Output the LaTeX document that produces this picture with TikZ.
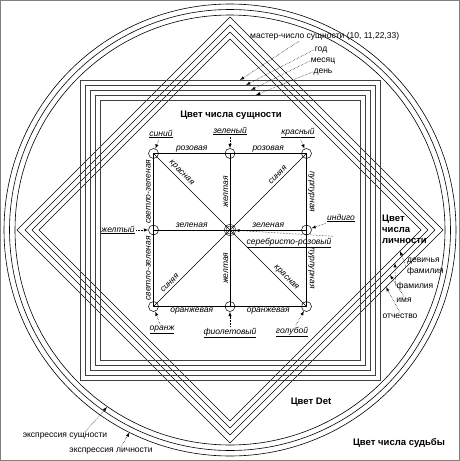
\documentclass[tikz,border=0pt]{standalone}
\usepackage{fontspec}
\setmainfont{Liberation Sans}
\usetikzlibrary{arrows}

\tikzset{
  ring/.style={line width=.6pt},
  frame/.style={black!75,line width=.7pt},
  link/.style={line width=.6pt},
  ptr/.style={densely dotted,-latex,line width=.5pt},
  dot/.style={circle,draw,line width=.5pt,inner sep=0pt,minimum size=10pt},
  clr/.style={font=\fontsize{8.5}{10}\selectfont\itshape,inner sep=1.5pt},
  ttl/.style={font=\fontsize{9.5}{11}\selectfont\bfseries,inner sep=0pt},
  txt/.style={font=\fontsize{8.5}{11}\selectfont,inner sep=1pt},
}

\begin{document}
\begin{tikzpicture}[x=1pt,y=-1pt]
  \useasboundingbox (0,0) rectangle (460,461);
  \draw[gray,line width=1pt] (.5,.5) rectangle (459.5,460.5);

  \foreach \r in {215,220.5,226}
    \draw[ring] (230,230) circle (\r);
  \foreach \d in {191,198,205,213}
    \draw[ring] (230,230-\d) -- (230+\d,230) -- (230,230+\d) -- (230-\d,230) -- cycle;
  \foreach \s in {130,135,140,145,150}
    \draw[frame] (230-\s,230-\s) rectangle (230+\s,230+\s);

  \node[dot] (tl) at (153.5,153.5) {};
  \node[dot] (tm) at (230,153.5) {};
  \node[dot] (tr) at (306.5,153.5) {};
  \node[dot] (ml) at (153.5,230) {};
  \node[dot,double,double distance=1pt] (c) at (230,230) {};
  \node[dot] (mr) at (306.5,230) {};
  \node[dot] (bl) at (153.5,306.5) {};
  \node[dot] (bm) at (230,306.5) {};
  \node[dot] (br) at (306.5,306.5) {};

  \draw[link] (tl.center) -- (tr.center) -- (br.center) -- (bl.center) -- cycle;
  \draw[link] (ml.center) -- (mr.center);
  \draw[link] (tm.center) -- (bm.center);
  \draw[link] (tl.center) -- (br.center);
  \draw[link] (tr.center) -- (bl.center);

  \path (tl) -- (tm) node[clr,midway,above] {розовая};
  \path (tm) -- (tr) node[clr,midway,above] {розовая};
  \path (ml) -- (c) node[clr,midway,above,yshift=1pt] {зеленая};
  \path (c) -- (mr) node[clr,midway,above,yshift=1pt] {зеленая};
  \path (bl) -- (bm) node[clr,midway,below] {оранжевая};
  \path (bm) -- (br) node[clr,midway,below] {оранжевая};
  \path (tl) -- (ml) node[clr,midway,rotate=90,anchor=south,yshift=1pt] {светло-зеленая};
  \path (ml) -- (bl) node[clr,midway,rotate=90,anchor=south,yshift=1pt] {светло-зеленая};
  \path (tm) -- (c) node[clr,midway,rotate=90,anchor=south] {желтая};
  \path (c) -- (bm) node[clr,midway,rotate=90,anchor=south] {желтая};
  \path (tr) -- (mr) node[clr,midway,rotate=-90,anchor=south] {пурпурная};
  \path (mr) -- (br) node[clr,midway,rotate=-90,anchor=south] {пурпурная};
  \path (tl.center) -- (c.center) node[clr,pos=.31,sloped,above=1pt] {красная};
  \path (c.center) -- (tr.center) node[clr,pos=.67,sloped,above=1pt] {синяя};
  \path (bl.center) -- (c.center) node[clr,pos=.26,sloped,above=1pt] {синяя};
  \path (c.center) -- (br.center) node[clr,pos=.68,sloped,above=1pt] {красная};

  \node[clr] (siniy) at (161,134) {\underline{синий}};
  \node[clr] (zelen) at (230,131) {\underline{зеленый}};
  \node[clr] (krasn) at (298,133) {\underline{красный}};
  \node[clr] (zhelt) at (118,230) {\underline{желтый}};
  \node[clr] (indigo) at (341,218) {\underline{индиго}};
  \node[clr] (serroz) at (289,243) {\underline{серебристо-розовый}};
  \node[clr] (oranzh) at (162,330) {\underline{оранж}};
  \node[clr] (fiolet) at (230,333) {\underline{фиолетовый}};
  \node[clr] (golub) at (292,332) {\underline{голубой}};
  \draw[ptr] (siniy) -- (tl);
  \draw[ptr] (zelen) -- (tm);
  \draw[ptr] (krasn) -- (tr);
  \draw[ptr] (zhelt) -- (ml);
  \draw[ptr] (indigo) -- (mr);
  \draw[ptr] (serroz.north east) -- (c);
  \draw[ptr] (oranzh) -- (bl);
  \draw[ptr] (fiolet) -- (bm);
  \draw[ptr] (golub) -- (br);

  \node[ttl] (tess) at (231,115) {Цвет числа сущности};
  \node[ttl,align=left,anchor=west] (tpers) at (382,229) {Цвет\\числа\\личности};
  \node[ttl] (tdet) at (311,402) {Цвет Det};
  \node[ttl] (tfate) at (399,443) {Цвет числа судьбы};

  \node[txt,anchor=west] (master) at (249,36) {мастер-число сущности (10, 11,22,33)};
  \node[txt] (god) at (321,50) {год};
  \node[txt] (mes) at (323,61) {месяц};
  \node[txt] (den) at (323,72) {день};
  \coordinate (sq1) at (240,80);
  \coordinate (sq2) at (246,85);
  \coordinate (sq3) at (251,90);
  \coordinate (sq4) at (256,95);
  \draw[ptr] ([xshift=50pt]master.south west) -- (sq1);
  \draw[ptr] (god.west) -- (sq2);
  \draw[ptr] (mes.west) -- (sq3);
  \draw[ptr] (den.west) -- (sq4);

  \node[txt,align=left,anchor=north west] (maiden) at (406,257) {девичья\\фамилия};
  \node[txt] (fam) at (415,286) {фамилия};
  \node[txt] (imya) at (404,300) {имя};
  \node[txt] (otch) at (400,316) {отчество};
  \coordinate (dm1) at (400,251);
  \coordinate (dm2) at (395,263);
  \coordinate (dm3) at (390,275);
  \coordinate (dm4) at (386,287);
  \draw[ptr] (maiden.west) -- (dm1);
  \draw[ptr] (fam.west) -- (dm2);
  \draw[ptr] (imya.north) -- (dm3);
  \draw[ptr] (otch.north) -- (dm4);

  \node[txt] (exs) at (65,436) {экспрессия сущности};
  \node[txt] (exl) at (111,451) {экспрессия личности};
  \coordinate (cs) at (107,407);
  \coordinate (cl) at (129.5,432.5);
  \draw[ptr] ([xshift=20pt]exs.north) -- (cs);
  \draw[ptr] ([xshift=10pt]exl.north) -- (cl);
\end{tikzpicture}
\end{document}
